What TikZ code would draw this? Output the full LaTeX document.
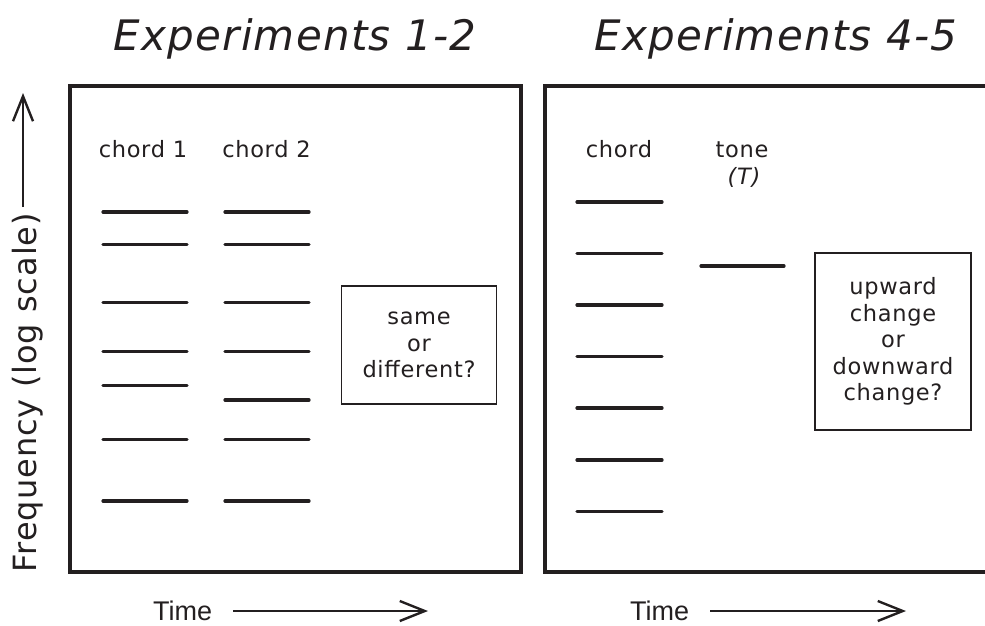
\documentclass[tikz,border=0pt]{standalone}
\usepackage{fontspec}
\setmainfont{DejaVu Sans}[LetterSpace=3]
\newfontfamily\timefont{Liberation Sans}
\usetikzlibrary{arrows.meta}
\definecolor{ink}{RGB}{35,31,32}
\begin{document}
\begin{tikzpicture}[x=1pt,y=-1pt, color=ink,
  panel/.style={line width=4pt},
  tonebar/.style={line width=3.2pt, line cap=round},
  qbox/.style={draw, line width=1.3pt, align=center, inner sep=0pt,
    font=\fontsize{22.5}{26.5}\selectfont},
  lbl/.style={anchor=base, font=\fontsize{22.5}{27}\selectfont},
  ttl/.style={anchor=base, font=\fontsize{42}{50}\selectfont\itshape},
  timelbl/.style={anchor=base west, inner sep=0pt, font=\timefont\fontsize{27}{30}\selectfont},
  axarrow/.style={line width=2.4pt,
    -{Straight Barb[length=25pt,width=20pt,line width=2.4pt]}},
]
\useasboundingbox (0,0) rectangle (985,626);
\clip (0,0) rectangle (985,626);

% titles
\node[ttl] (t1) at (295,51) {Experiments 1-2};
\node[ttl] (t2) at (776,51) {Experiments 4-5};

% panels
\draw[panel] (70,86) rectangle (521,572);
\draw[panel] (545,86) rectangle (1000,572);

% left panel labels
\node[lbl] (c1) at (143,157) {chord 1};
\node[lbl] (c2) at (266.5,157) {chord 2};

% chord 1 components
\foreach \yy in {212,244.3,302.3,351.7,385.7,439.3,501}
  \draw[tonebar] (103,\yy) -- (187,\yy);
% chord 2 components
\foreach \yy in {212,244.3,302.3,351.7,400,439.3,501}
  \draw[tonebar] (225,\yy) -- (309,\yy);

\node[qbox, minimum width=155pt, minimum height=118pt] (q1) at (419,345)
  {same\\or\\different?};

% right panel labels
\node[lbl] (c3) at (619,157) {chord};
\node[lbl] (tone) at (742,157) {tone};
\node[lbl] (T) at (744,184) {\itshape (T)};

\foreach \yy in {202,253.5,305,356.5,408,460,511.5}
  \draw[tonebar] (577,\yy) -- (662,\yy);
\draw[tonebar] (701,266) -- (784,266);

\node[qbox, minimum width=156pt, minimum height=177pt] (q2) at (893,341.5)
  {upward\\change\\or\\downward\\change?};

% frequency axis
\node[rotate=90, anchor=base, font=\fontsize{32}{38}\selectfont] (freq) at (36,392.5)
  {Frequency (log scale)};
\coordinate (fa) at (23,207);
\coordinate (fb) at (23,93);
\draw[axarrow] (fa) -- (fb);

% time axes
\node[timelbl] (time1) at (153,620) {Time};
\coordinate (ta1) at (233,611);
\coordinate (tb1) at (428,611);
\draw[axarrow] (ta1) -- (tb1);

\node[timelbl] (time2) at (630,620) {Time};
\coordinate (ta2) at (710,611);
\coordinate (tb2) at (906,611);
\draw[axarrow] (ta2) -- (tb2);
\end{tikzpicture}
\end{document}
